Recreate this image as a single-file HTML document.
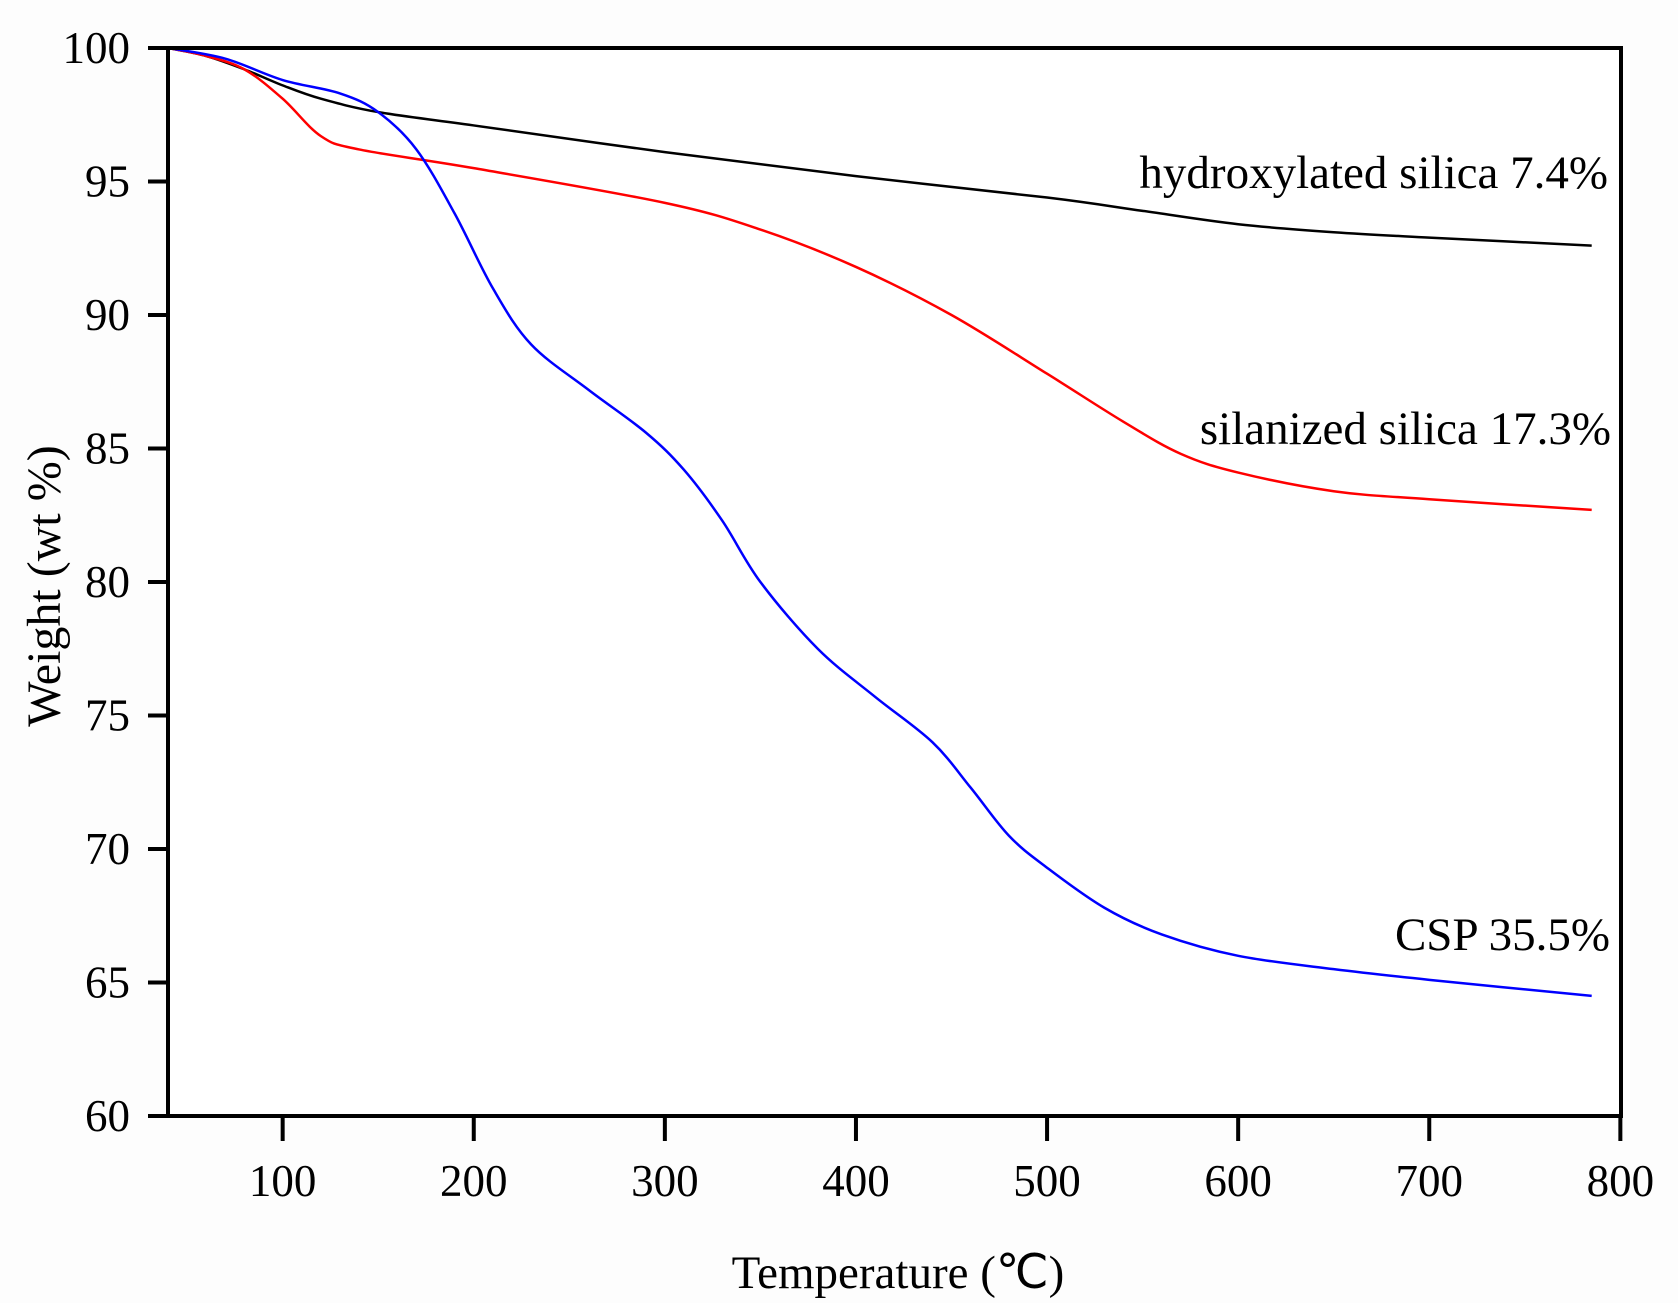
<!DOCTYPE html>
<html><head><meta charset="utf-8"><style>
html,body{margin:0;padding:0;background:#fdfdfd;}
svg{display:block;}
text{font-family:"Liberation Serif",serif;fill:#000;}
</style></head><body>
<svg id="s" width="1678" height="1303" viewBox="0 0 1678 1303" xmlns="http://www.w3.org/2000/svg">
<rect x="168" y="48" width="1453" height="1068" fill="#fff"/>
<g id="curves" fill="none" stroke-width="2.5"></g>
<rect x="168" y="48" width="1453" height="1068" fill="none" stroke="#000" stroke-width="4"/>
<g id="ticks" stroke="#000" stroke-width="4"></g>
<g id="labels" font-size="45"></g>
<text x="1608" y="188" font-size="47" text-anchor="end">hydroxylated silica 7.4%</text>
<text x="1611" y="444" font-size="47" text-anchor="end">silanized silica 17.3%</text>
<text x="1610" y="950" font-size="47" text-anchor="end">CSP 35.5%</text>
<text x="898" y="1288" font-size="47" text-anchor="middle">Temperature (℃)</text>
<text transform="translate(60,586) rotate(-90)" font-size="48" text-anchor="middle">Weight (wt %)</text>
</svg>
<script>
var NS="http://www.w3.org/2000/svg";
function X(t){return 168+(t-40)*1.911;}
function Y(w){return 48+(100-w)*26.7;}
function el(p,n,a){var e=document.createElementNS(NS,n);for(var k in a)e.setAttribute(k,a[k]);p.appendChild(e);return e;}
var tk=document.getElementById('ticks'),lb=document.getElementById('labels');
for(var t=100;t<=800;t+=100){el(tk,'line',{x1:X(t),x2:X(t),y1:1116,y2:1141});var tx=el(lb,'text',{x:X(t),y:1196,'text-anchor':'middle'});tx.textContent=t;}
for(var w=60;w<=100;w+=5){el(tk,'line',{x1:148,x2:168,y1:Y(w),y2:Y(w)});var tx=el(lb,'text',{x:130,y:Y(w)+15,'text-anchor':'end'});tx.textContent=w;}
var data={
"#000":[[40,100],[60,99.7],[80,99.2],[100,98.6],[120,98.1],[150,97.6],[200,97.1],[300,96.1],[400,95.2],[500,94.4],[550,93.9],[600,93.4],[650,93.1],[700,92.9],[785,92.6]],
"#f00":[[40,100],[60,99.7],[80,99.2],[100,98.1],[120,96.7],[140,96.2],[200,95.5],[300,94.2],[350,93.2],[400,91.8],[450,90.0],[500,87.8],[540,86.0],[570,84.8],[600,84.1],[650,83.4],[700,83.1],[785,82.7]],
"#00f":[[40,100],[70,99.6],[100,98.8],[130,98.3],[150,97.6],[170,96.2],[190,93.8],[210,91.0],[230,88.9],[260,87.2],[290,85.6],[310,84.2],[330,82.3],[350,80.0],[380,77.5],[410,75.7],[440,74.0],[460,72.3],[480,70.5],[500,69.3],[530,67.8],[560,66.8],[600,66.0],[650,65.5],[700,65.1],[785,64.5]]};
var g=document.getElementById('curves');
for(var c in data){var p=data[c].map(function(d){return [X(d[0]),Y(d[1])];});
var s="M"+p[0][0]+","+p[0][1];
for(var i=0;i<p.length-1;i++){var p0=p[Math.max(i-1,0)],p1=p[i],p2=p[i+1],p3=p[Math.min(i+2,p.length-1)];
s+=" C"+(p1[0]+(p2[0]-p0[0])/6)+","+(p1[1]+(p2[1]-p0[1])/6)+" "+(p2[0]-(p3[0]-p1[0])/6)+","+(p2[1]-(p3[1]-p1[1])/6)+" "+p2[0]+","+p2[1];}
el(g,'path',{d:s,stroke:c});}
</script>
</body></html>
